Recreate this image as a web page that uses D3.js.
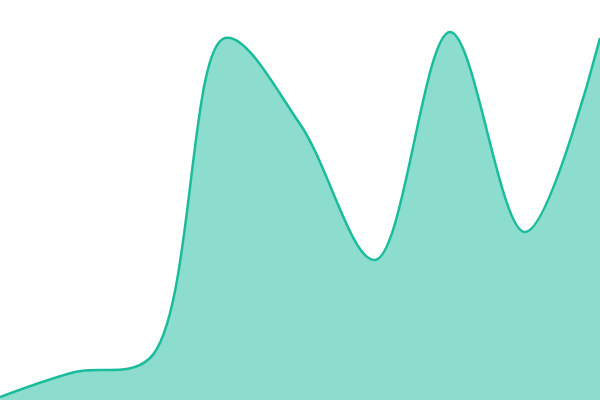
<!DOCTYPE html>
<html lang="en">
<head>
    <meta charset="UTF-8">
    <script src="https://d3js.org/d3.v7.min.js" charset="utf-8"></script>
    <title>Area</title>
</head>
<body style="margin:0">
    <div id="chart"></div>
    <script>
        const width = 600, height = 400;

        // positions along x (index) and values
        const steps = [0, 1, 2, 3, 4, 5, 6, 7, 8];
        const values = [0.75, 7, 10.5, 90.5, 69, 35, 92, 42, 90.5];

        const x = d3.scaleLinear().domain([0, 8]).range([0, width]);
        const y = d3.scaleLinear().domain([0, 100]).range([height, 0]);

        const data = steps.map((s, i) => ({ s: s, v: values[i] }));

        const svg = d3.select('#chart').append("svg")
            .attr("width", width)
            .attr("height", height);

        const area = d3.area()
            .curve(d3.curveCatmullRom)
            .x(d => x(d.s))
            .y0(height)
            .y1(d => y(d.v));

        const line = d3.line()
            .curve(d3.curveCatmullRom)
            .x(d => x(d.s))
            .y(d => y(d.v));

        svg.append("path")
            .datum(data)
            .attr("d", area)
            .style("fill", "#1abc9c")
            .style("opacity", 0.5);

        svg.append("path")
            .datum(data)
            .attr("d", line)
            .style("fill", "none")
            .style("stroke", "#1abc9c")
            .style("stroke-width", 2.5);
    </script>
</body>
</html>
